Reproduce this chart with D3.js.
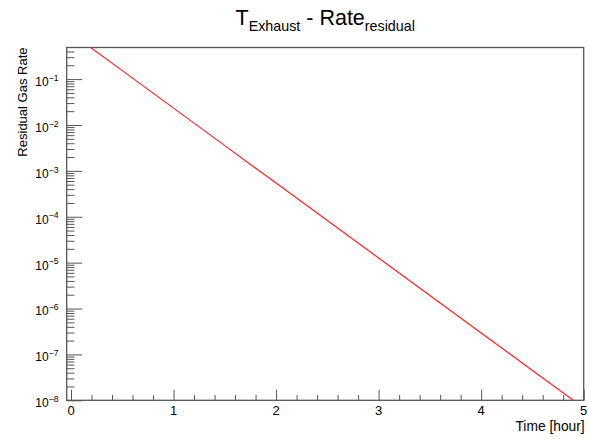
<!DOCTYPE html>
<html>
<head>
<meta charset="utf-8">
<script src="https://cdn.jsdelivr.net/npm/d3@7"></script>
<style>
  body { margin: 0; background: #fff; }
  svg { display: block; }
  text { font-family: "Liberation Sans", Arial, Helvetica, sans-serif; fill: #000; }
</style>
</head>
<body>
<div id="chart"></div>
<script>
// Data
const times = [0, 0.5, 1, 1.5, 2, 2.5, 3, 3.5, 4, 4.5, 5];
const rates = [1, 0.153, 0.0233, 3.55e-3, 5.42e-4, 8.27e-5, 1.26e-5, 1.93e-6, 2.94e-7, 4.48e-8, 6.84e-9];
const xMajorTicks = [0, 1, 2, 3, 4, 5];
const yDecadeExps = [-8, -7, -6, -5, -4, -3, -2, -1];

const W = 589, H = 440;
const frame = { left: 66.7, right: 583.7, top: 47.5, bottom: 400.3 };
const frameColor = "#555";

const svg = d3.select("#chart").append("svg")
  .attr("width", W)
  .attr("height", H);

// Scales
const x = d3.scaleLinear().domain([-0.042, 5]).range([frame.left, frame.right]);
const y = d3.scaleLog().domain([1e-8, 0.488]).range([frame.bottom, frame.top]);

// Minor tick values
const xMinor = d3.range(0, 5.0001, 0.2).filter(v => Math.abs(v - Math.round(v)) > 1e-6);
const yMinor = [];
for (let e = -9; e <= 0; e++) {
  for (let k = 2; k <= 9; k++) {
    const v = k * Math.pow(10, e);
    if (v >= 1e-8 && v <= 0.488) yMinor.push(v);
  }
}

const majX = 10.6, minX = 5.3;   // x tick lengths (up into frame)
const majY = 15.5, minY = 7.75;  // y tick lengths (right into frame)

// X axis: major ticks
svg.append("g")
  .attr("transform", `translate(0,${frame.bottom})`)
  .call(d3.axisBottom(x).tickValues(xMajorTicks).tickSize(-majX).tickFormat(""))
  .call(g => g.select(".domain").remove())
  .selectAll("line").attr("stroke", frameColor);

// X axis: minor ticks
svg.append("g")
  .attr("transform", `translate(0,${frame.bottom})`)
  .call(d3.axisBottom(x).tickValues(xMinor).tickSize(-minX).tickFormat(""))
  .call(g => g.select(".domain").remove())
  .selectAll("line").attr("stroke", frameColor);

// X tick labels
svg.append("g")
  .selectAll("text")
  .data(xMajorTicks)
  .join("text")
  .attr("x", d => x(d))
  .attr("y", 414.5)
  .attr("text-anchor", "middle")
  .style("font-size", "13px")
  .text(d => d);

// Y axis: major ticks
const yMajorVals = yDecadeExps.map(e => Math.pow(10, e));
svg.append("g")
  .attr("transform", `translate(${frame.left},0)`)
  .call(d3.axisLeft(y).tickValues(yMajorVals).tickSize(-majY).tickFormat(""))
  .call(g => g.select(".domain").remove())
  .selectAll("line").attr("stroke", frameColor);

// Y axis: minor ticks
svg.append("g")
  .attr("transform", `translate(${frame.left},0)`)
  .call(d3.axisLeft(y).tickValues(yMinor).tickSize(-minY).tickFormat(""))
  .call(g => g.select(".domain").remove())
  .selectAll("line").attr("stroke", frameColor);

// Y tick labels 10^n
const yLabels = svg.append("g")
  .selectAll("text")
  .data(yDecadeExps)
  .join("text")
  .attr("x", frame.left - 8.2)
  .attr("y", d => y(Math.pow(10, d)) + 6.9)
  .attr("text-anchor", "end")
  .style("font-size", "12px");
yLabels.append("tspan").text("10");
yLabels.append("tspan")
  .attr("dy", -5.2)
  .style("font-size", "8.6px")
  .text(d => "\u2212" + Math.abs(d));

// Frame
svg.append("rect")
  .attr("x", frame.left)
  .attr("y", frame.top)
  .attr("width", frame.right - frame.left)
  .attr("height", frame.bottom - frame.top)
  .attr("fill", "none")
  .attr("stroke", frameColor)
  .attr("stroke-width", 1.3);

// Clip + curve
svg.append("clipPath")
  .attr("id", "plot-clip")
  .append("rect")
  .attr("x", frame.left)
  .attr("y", frame.top)
  .attr("width", frame.right - frame.left)
  .attr("height", frame.bottom - frame.top);

const line = d3.line()
  .x((d, i) => x(times[i]))
  .y(d => y(d));

svg.append("path")
  .datum(rates)
  .attr("clip-path", "url(#plot-clip)")
  .attr("fill", "none")
  .attr("stroke", "#ff2020")
  .attr("stroke-width", 1.2)
  .attr("d", line);

// Axis titles
svg.append("text")
  .attr("transform", `translate(27,${frame.top}) rotate(-90)`)
  .attr("text-anchor", "end")
  .style("font-size", "13px")
  .text("Residual Gas Rate");

svg.append("text")
  .attr("x", frame.right + 1)
  .attr("y", 431)
  .attr("text-anchor", "end")
  .style("font-size", "13.8px")
  .text("Time [hour]");

// Title with subscripts
const title = svg.append("text")
  .attr("x", (frame.left + frame.right) / 2)
  .attr("y", 25)
  .attr("text-anchor", "middle")
  .style("font-size", "21.5px");
title.append("tspan").text("T");
title.append("tspan").attr("dy", 5.5).style("font-size", "14.3px").text("Exhaust");
title.append("tspan").attr("dy", -5.5).text(" - Rate");
title.append("tspan").attr("dy", 5.5).style("font-size", "14.3px").text("residual");
</script>
</body>
</html>
